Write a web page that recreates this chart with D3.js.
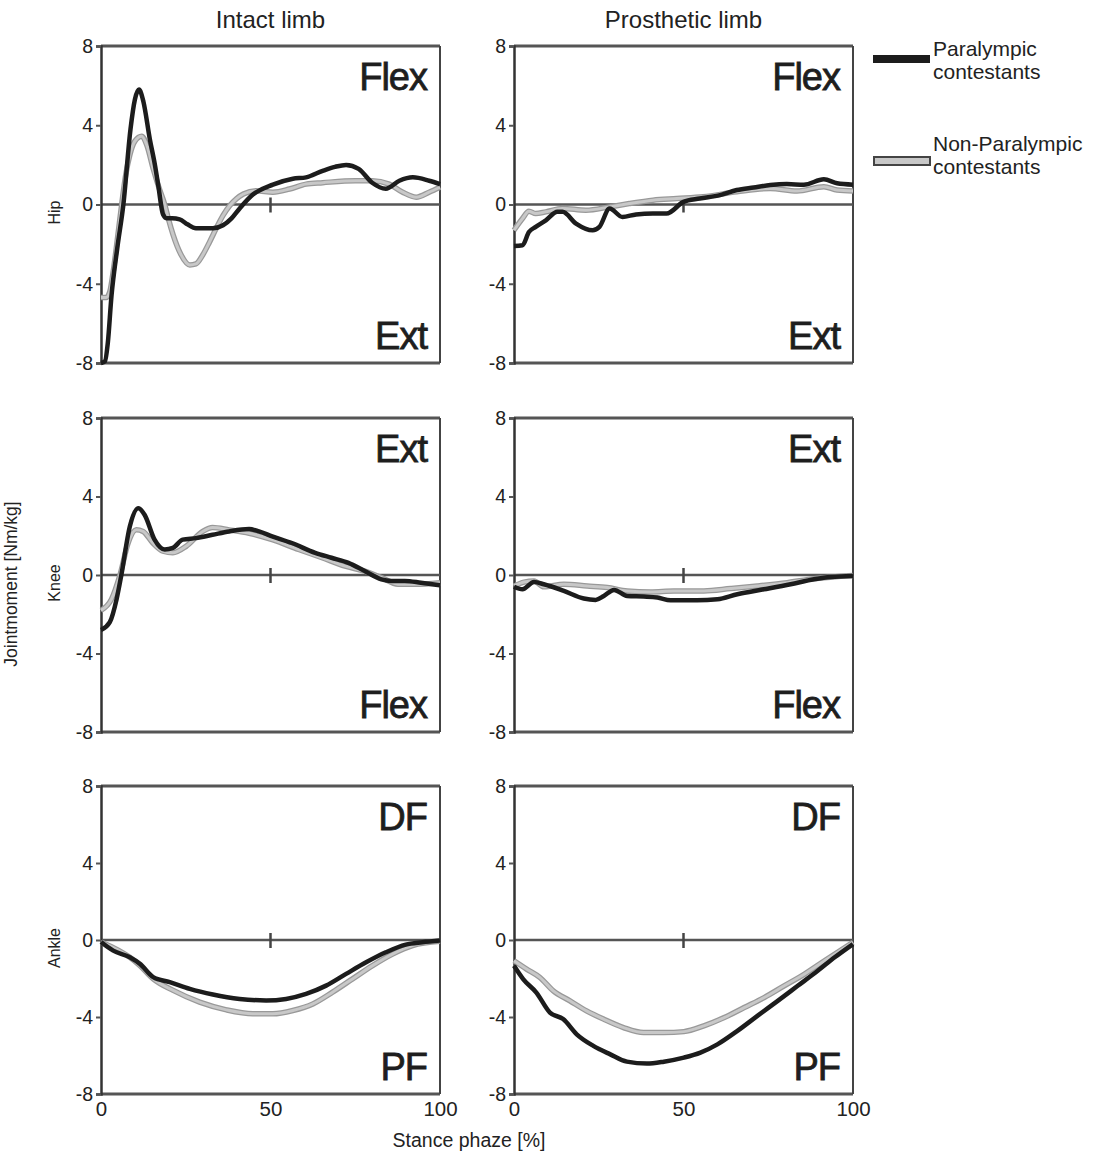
<!DOCTYPE html>
<html>
<head>
<meta charset="utf-8">
<script src="https://cdn.jsdelivr.net/npm/d3@7"></script>
<style>
  body { margin: 0; background: #fff; }
  svg { font-family: "Liberation Sans", Arial, sans-serif; }
</style>
</head>
<body>
<svg id="chart" width="1094" height="1152"></svg>
<script>
// limbs (columns) and joints (rows)
var columns = ['Intact limb', 'Prosthetic limb'];
var joints = ['Hip', 'Knee', 'Ankle'];
var posLabels = ['Flex', 'Ext', 'DF'];
var negLabels = ['Ext', 'Flex', 'PF'];
var yTicks = [-8, -4, 0, 4, 8];
var xTicks = [0, 50, 100];
var seriesNames = ['Paralympic contestants', 'Non-Paralympic contestants'];

// [stance %, moment Nm/kg]
var hipIntactPara = [[0,-8],[1.2,-7.9],[2,-7],[3.1,-4.6],[4.8,-2.2],[6.6,0],[8.7,3.8],[10,5.3],[11.2,5.8],[12.5,5.2],[14.4,3.3],[15.9,2],[16.9,0.95],[18.3,-0.5],[19.5,-0.7],[21,-0.7],[23.2,-0.75],[25.5,-1],[28,-1.2],[33,-1.2],[36,-1.05],[38.5,-0.7],[40.9,-0.2],[44.8,0.5],[50.7,1],[56.6,1.3],[60.5,1.37],[65.4,1.7],[69,1.9],[72.3,2],[76,1.8],[80,1.1],[84,0.8],[88,1.2],[92,1.37],[96.8,1.2],[100,1.03]];
var hipIntactNon = [[0,-4.7],[1.5,-4.7],[2.6,-4.4],[3.5,-3.5],[4.8,-1.8],[6.1,0],[7.3,1.5],[8.5,2.5],[10,3.2],[12,3.45],[13.5,3],[15.4,1.8],[17,0.9],[18.8,0],[20,-0.8],[21.3,-1.55],[23.5,-2.5],[26.2,-3.05],[28,-3],[30,-2.55],[32,-1.9],[34,-1.2],[36,-0.55],[38,-0.05],[40,0.3],[42,0.53],[45.8,0.7],[50.7,0.62],[55.6,0.78],[60.5,1.03],[65.4,1.1],[75,1.2],[80,1.2],[85,1.03],[89,0.62],[93,0.37],[96.8,0.62],[100,0.87]];
var hipProsPara = [[0,-2.1],[2.5,-2.06],[4.4,-1.39],[6.4,-1.13],[9.4,-0.8],[12.8,-0.37],[14.3,-0.37],[18.3,-0.96],[23.2,-1.3],[25.2,-1.13],[28.2,-0.2],[32,-0.63],[36,-0.5],[41,-0.46],[45,-0.46],[50,0.13],[54.8,0.3],[60.8,0.47],[65.7,0.73],[70.7,0.86],[75.6,0.98],[80.5,1.03],[85.5,1],[91.4,1.27],[95.3,1.07],[100,1]];
var hipProsNon = [[0,-1.3],[2.5,-0.71],[4.4,-0.34],[6.4,-0.46],[9.4,-0.37],[14.3,-0.2],[21.2,-0.29],[28.2,-0.12],[34,0.05],[41,0.22],[48,0.3],[55.8,0.39],[65.7,0.64],[75.6,0.81],[83.5,0.68],[91.4,0.9],[95.3,0.73],[100,0.68]];
var kneeIntactPara = [[0,-2.8],[2.6,-2.4],[4.6,-1.23],[6,0],[8.5,2.47],[11,3.4],[12.9,3.06],[15.8,1.8],[18.8,1.3],[21.2,1.38],[24.1,1.8],[28,1.88],[32.9,2.05],[37.8,2.22],[43.7,2.34],[46.6,2.22],[50.5,1.97],[56.3,1.63],[63.2,1.13],[68,0.88],[73,0.62],[77.8,0.2],[82.7,-0.22],[85.6,-0.3],[89.6,-0.3],[94.4,-0.39],[100,-0.52]];
var kneeIntactNon = [[0,-1.8],[3.1,-1.23],[5.6,0],[8,1.63],[10.4,2.3],[12.4,2.22],[15.3,1.63],[18.3,1.21],[21.2,1.13],[25.1,1.46],[30,2.22],[32.9,2.42],[37.8,2.3],[43.7,2.13],[50.5,1.8],[58.3,1.3],[65.2,0.88],[72,0.45],[77.8,0.2],[82.7,-0.13],[87.6,-0.47],[92.5,-0.47],[100,-0.39]];
var kneeProsPara = [[0,-0.6],[2.5,-0.73],[5.9,-0.36],[8.8,-0.47],[14.7,-0.81],[20.6,-1.2],[24.1,-1.27],[26.5,-1.07],[29.5,-0.76],[33.4,-1.07],[38.3,-1.1],[42.3,-1.15],[46.2,-1.29],[54,-1.29],[60,-1.24],[65.9,-0.98],[73.7,-0.73],[81.6,-0.47],[88.5,-0.22],[93.4,-0.1],[100,-0.05]];
var kneeProsNon = [[0,-0.56],[3,-0.36],[5.9,-0.3],[8.8,-0.6],[14.7,-0.47],[21.6,-0.56],[27.5,-0.64],[33.4,-0.81],[40.3,-0.86],[47.2,-0.81],[56,-0.81],[63.9,-0.69],[71.8,-0.56],[80.6,-0.39],[88.5,-0.19],[100,-0.02]];
var ankleIntactPara = [[0,-0.1],[3.6,-0.55],[8.5,-0.9],[11.5,-1.24],[15.4,-1.93],[20.3,-2.19],[26.2,-2.54],[33,-2.83],[40.9,-3.06],[48.7,-3.14],[54.6,-3.06],[60.5,-2.8],[66.4,-2.37],[72.3,-1.76],[78.2,-1.16],[84,-0.64],[89.9,-0.24],[94.8,-0.12],[100,-0.03]];
var ankleIntactNon = [[0,-0.1],[8.5,-0.9],[11.5,-1.33],[15.4,-2.02],[21.3,-2.62],[29.1,-3.23],[37,-3.63],[44.8,-3.83],[50.7,-3.83],[56.6,-3.66],[62.5,-3.32],[68.3,-2.71],[74.2,-2.02],[80.1,-1.33],[86,-0.73],[91.9,-0.29],[100,-0.07]];
var ankleProsPara = [[0,-1.34],[2.7,-2.03],[6.6,-2.73],[10.6,-3.77],[14.5,-4.11],[18.5,-4.9],[23.4,-5.5],[28.4,-5.94],[33.3,-6.32],[39.2,-6.42],[44.2,-6.32],[50.1,-6.11],[55,-5.85],[60,-5.42],[65.9,-4.72],[71.8,-3.94],[77.8,-3.16],[83.7,-2.38],[89.6,-1.6],[94.6,-0.9],[100,-0.21]];
var ankleProsNon = [[0,-1.08],[3.7,-1.51],[7.6,-1.94],[11.6,-2.64],[16.5,-3.16],[21.4,-3.68],[26.4,-4.11],[32.3,-4.55],[38.2,-4.81],[44.2,-4.81],[50.1,-4.76],[56,-4.46],[62,-4.03],[67.9,-3.51],[73.8,-2.99],[79.7,-2.38],[85.7,-1.77],[91.6,-1.08],[100,-0.12]];

var panels = [
  [[hipIntactPara, hipIntactNon], [hipProsPara, hipProsNon]],
  [[kneeIntactPara, kneeIntactNon], [kneeProsPara, kneeProsNon]],
  [[ankleIntactPara, ankleIntactNon], [ankleProsPara, ankleProsNon]]
];

var svg = d3.select('#chart');

var colLeft = [101, 514];
var panelW = 339;
var rowTop = [46, 418, 786];
var rowH = [317, 314, 308];

var lineGen = d3.line().curve(d3.curveMonotoneX);

joints.forEach(function(joint, r) {
  columns.forEach(function(col, c) {
    var x = d3.scaleLinear().domain([0, 100]).range([colLeft[c], colLeft[c] + panelW]);
    var y = d3.scaleLinear().domain([-8, 8]).range([rowTop[r] + rowH[r], rowTop[r]]);
    var g = svg.append('g');

    // frame
    g.append('line')
      .attr('x1', x(0)).attr('x2', x(100)).attr('y1', y(8)).attr('y2', y(8))
      .attr('stroke', '#555').attr('stroke-width', 3);
    g.append('line')
      .attr('x1', x(0)).attr('x2', x(100)).attr('y1', y(-8)).attr('y2', y(-8))
      .attr('stroke', '#555').attr('stroke-width', 3);
    g.append('line')
      .attr('x1', x(100)).attr('x2', x(100)).attr('y1', y(8)).attr('y2', y(-8))
      .attr('stroke', '#444').attr('stroke-width', 2);

    // zero line + mid tick
    g.append('line')
      .attr('x1', x(0)).attr('x2', x(100)).attr('y1', y(0)).attr('y2', y(0))
      .attr('stroke', '#555').attr('stroke-width', 2.5);
    g.append('line')
      .attr('x1', x(50)).attr('x2', x(50)).attr('y1', y(0) - 7).attr('y2', y(0) + 8)
      .attr('stroke', '#444').attr('stroke-width', 2.5);

    var yAxis = g.append('g')
      .attr('transform', 'translate(' + x(0) + ',0)')
      .call(d3.axisLeft(y).tickValues(yTicks).tickSize(5).tickPadding(3)
        .tickFormat(function(d) { return String(d); }));
    yAxis.select('.domain').attr('stroke', '#333').attr('stroke-width', 2.5);
    yAxis.selectAll('.tick line').attr('stroke', '#555').attr('stroke-width', 2);
    yAxis.selectAll('text').attr('font-size', 19.5).attr('fill', '#222')
      .attr('font-family', '"Liberation Sans", Arial, sans-serif');

    if (r === 2) {
      var xAxis = g.append('g')
        .attr('transform', 'translate(0,' + y(-8) + ')')
        .call(d3.axisBottom(x).tickValues(xTicks).tickSize(0).tickPadding(7));
      xAxis.select('.domain').remove();
      xAxis.selectAll('text').attr('font-size', 20.5).attr('fill', '#222')
        .attr('font-family', '"Liberation Sans", Arial, sans-serif');
    }

    // series: non-paralympic (grey, outlined) then paralympic (black)
    var data = panels[r][c];
    g.append('path').datum(data[1])
      .attr('d', lineGen.x(function(d) { return x(d[0]); }).y(function(d) { return y(d[1]); }))
      .attr('fill', 'none').attr('stroke', '#999').attr('stroke-width', 5.5)
      .attr('stroke-linejoin', 'round');
    g.append('path').datum(data[1])
      .attr('d', lineGen)
      .attr('fill', 'none').attr('stroke', '#c8c8c8').attr('stroke-width', 3)
      .attr('stroke-linejoin', 'round');
    g.append('path').datum(data[0])
      .attr('d', lineGen)
      .attr('fill', 'none').attr('stroke', '#1c1c1c').attr('stroke-width', 4.5)
      .attr('stroke-linejoin', 'round');

    // direction labels
    g.append('text')
      .attr('x', x(100) - 13).attr('y', y(8) + 44)
      .attr('text-anchor', 'end').attr('font-size', 38).attr('fill', '#1e1e1e')
      .attr('stroke', '#1e1e1e').attr('stroke-width', 0.8)
      .attr('letter-spacing', -1)
      .text(posLabels[r]);
    g.append('text')
      .attr('x', x(100) - 13).attr('y', y(-8) - 14)
      .attr('text-anchor', 'end').attr('font-size', 38).attr('fill', '#1e1e1e')
      .attr('stroke', '#1e1e1e').attr('stroke-width', 0.8)
      .attr('letter-spacing', -1)
      .text(negLabels[r]);

    if (c === 0) {
      svg.append('text')
        .attr('transform', 'translate(60,' + (y(0) + 8) + ') rotate(-90)')
        .attr('text-anchor', 'middle').attr('font-size', 16).attr('fill', '#222')
        .text(joint);
    }
    if (r === 0) {
      svg.append('text')
        .attr('x', x(50)).attr('y', 28)
        .attr('text-anchor', 'middle').attr('font-size', 24).attr('fill', '#222')
        .text(col);
    }
  });
});

// shared axis titles
svg.append('text')
  .attr('transform', 'translate(17,584) rotate(-90)')
  .attr('text-anchor', 'middle').attr('font-size', 17.5).attr('fill', '#222')
  .text('Jointmoment [Nm/kg]');
svg.append('text')
  .attr('x', 469).attr('y', 1147)
  .attr('text-anchor', 'middle').attr('font-size', 19.5).attr('fill', '#222')
  .text('Stance phaze [%]');

// legend
var legend = svg.append('g');
legend.append('rect')
  .attr('x', 873).attr('y', 55).attr('width', 57).attr('height', 8)
  .attr('fill', '#1c1c1c');
legend.append('rect')
  .attr('x', 874).attr('y', 157).attr('width', 56).attr('height', 8)
  .attr('fill', '#c8c8c8').attr('stroke', '#444').attr('stroke-width', 2);
var legendLines = [
  ['Paralympic', 'contestants', 56],
  ['Non-Paralympic', 'contestants', 151]
];
legendLines.forEach(function(l) {
  var t = legend.append('text').attr('font-size', 21).attr('fill', '#222');
  t.append('tspan').attr('x', 933).attr('y', l[2]).text(l[0]);
  t.append('tspan').attr('x', 933).attr('y', l[2] + 23).text(l[1]);
});
</script>
</body>
</html>
